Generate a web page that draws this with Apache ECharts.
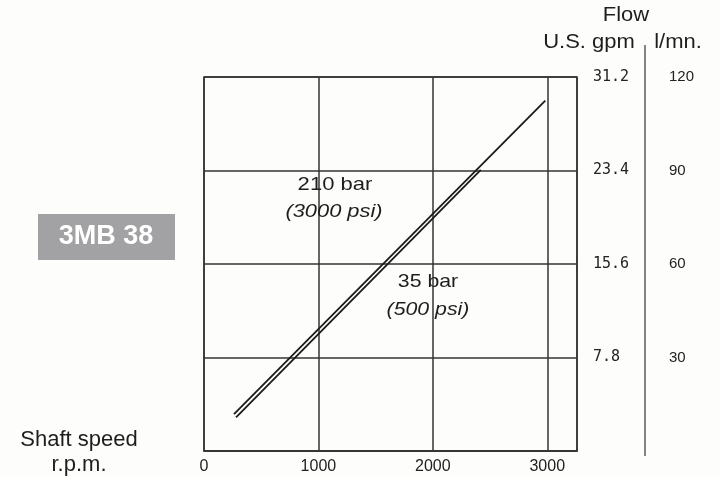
<!DOCTYPE html>
<html>
<head>
<meta charset="utf-8">
<script src="https://cdn.jsdelivr.net/npm/echarts@6/dist/echarts.min.js"></script>
<style>html,body{margin:0;padding:0;background:#fdfdfb;}#c{width:720px;height:477px;}</style>
</head>
<body>
<div id="c"></div>
<script>
// Data
const rpm35 = [262, 2983];
const flow35 = [11.8, 112.4];
const rpm210 = [280, 2419];
const flow210 = [10.8, 90.2];
const xTicks = [0, 1000, 2000, 3000];
const lmnTicks = [30, 60, 90, 120];
const gpmTicks = ['7.8', '15.6', '23.4', '31.2'];

const chart = echarts.init(document.getElementById('c'), null, {renderer: 'canvas'});
const ink = '#1e1e1e';
const gridCol = '#333';
function txt(text, x, y, size, opts) {
  opts = opts || {};
  return {
    type: 'text', x: x, y: y, scaleX: opts.sx || 1, z: 100,
    style: {
      text: text, fill: opts.fill || ink, align: 'center', verticalAlign: 'middle',
      font: (opts.style || 'normal') + ' ' + (opts.weight || 'normal') + ' ' + size + 'px "Liberation Sans", Arial, sans-serif'
    }
  };
}
const option = {
  backgroundColor: '#fdfdfb',
  animation: false,
  grid: {left: 204, right: 143, top: 77, bottom: 26, show: true, borderColor: gridCol, borderWidth: 1.5, backgroundColor: 'transparent'},
  xAxis: {
    type: 'value', min: 0, max: 3260, interval: 1000,
    axisLine: {show: true, lineStyle: {color: gridCol, width: 1.5}},
    axisTick: {show: false},
    splitLine: {show: true, lineStyle: {color: gridCol, width: 1.5}},
    axisLabel: {
      margin: 8, color: '#222', fontSize: 16, fontFamily: '"Liberation Sans", Arial, sans-serif',
      formatter: v => xTicks.indexOf(v) >= 0 ? String(v) : ''
    }
  },
  yAxis: [
    {
      type: 'value', position: 'right', min: 0, max: 120, interval: 30,
      axisLine: {show: false}, axisTick: {show: false},
      splitLine: {show: true, lineStyle: {color: gridCol, width: 1.5}},
      axisLabel: {
        margin: 92, align: 'left', color: '#222', fontSize: 15, fontFamily: '"Liberation Sans", Arial, sans-serif',
        formatter: v => lmnTicks.indexOf(v) >= 0 ? String(v) : ''
      }
    },
    {
      type: 'value', position: 'right', min: 0, max: 120, interval: 30,
      axisLine: {show: false}, axisTick: {show: false}, splitLine: {show: false},
      axisLabel: {
        margin: 16, align: 'left', color: '#222', fontSize: 15, fontFamily: '"DejaVu Sans Mono", monospace',
        formatter: v => { const i = lmnTicks.indexOf(v); return i >= 0 ? gpmTicks[i] : ''; }
      }
    }
  ],
  series: [
    {
      name: '35 bar', type: 'line', symbol: 'none', yAxisIndex: 0,
      data: rpm35.map((r, i) => [r, flow35[i]]),
      lineStyle: {color: '#1a1a1a', width: 1.8}
    },
    {
      name: '210 bar', type: 'line', symbol: 'none', yAxisIndex: 0,
      data: rpm210.map((r, i) => [r, flow210[i]]),
      lineStyle: {color: '#1a1a1a', width: 1.8}
    }
  ],
  graphic: [
    txt('Flow', 626, 15, 20, {sx: 1.1}),
    txt('U.S. gpm', 589, 42, 20, {sx: 1.1}),
    txt('l/mn.', 678, 42, 20, {sx: 1.1}),
    {type: 'line', shape: {x1: 645, y1: 45, x2: 645, y2: 456}, style: {stroke: '#444', lineWidth: 1.3}},
    {type: 'rect', shape: {x: 38, y: 214, width: 137, height: 46}, style: {fill: '#a2a2a4'}},
    txt('3MB 38', 106, 237, 27, {fill: '#ffffff', weight: 'bold'}),
    txt('Shaft speed', 79, 440, 22),
    txt('r.p.m.', 79, 465, 22),
    txt('210 bar', 335, 185, 19, {sx: 1.16}),
    txt('(3000 psi)', 334, 212, 19, {sx: 1.15, style: 'italic'}),
    txt('35 bar', 428, 282, 19, {sx: 1.12}),
    txt('(500 psi)', 428, 310, 19, {sx: 1.12, style: 'italic'})
  ]
};
chart.setOption(option);
</script>
</body>
</html>
